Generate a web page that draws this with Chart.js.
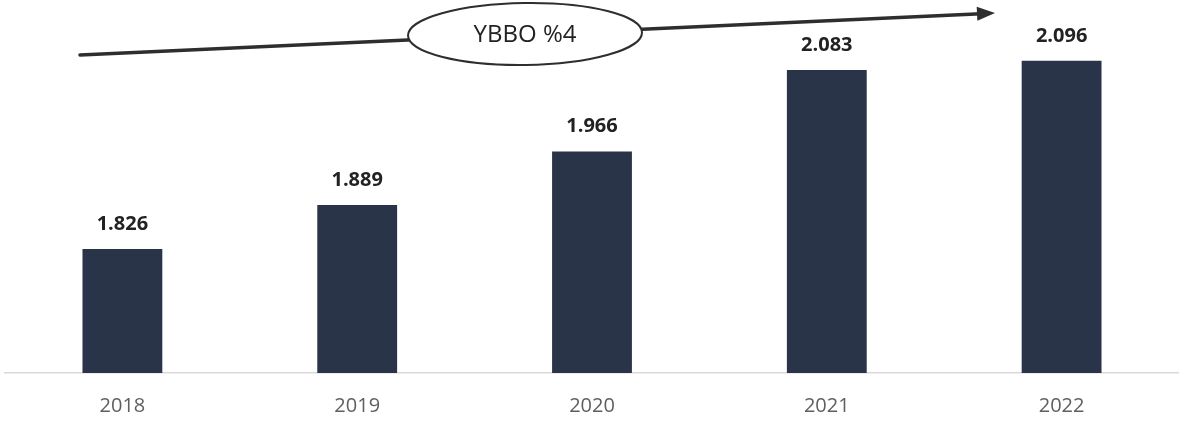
<!DOCTYPE html>
<html>
<head>
<meta charset="utf-8">
<script src="https://cdn.jsdelivr.net/npm/chart.js@4.4.0/dist/chart.umd.min.js"></script>
<style>
  html, body { margin: 0; padding: 0; background: #ffffff; }
  #wrap { width: 1179px; height: 423px; }
</style>
</head>
<body>
<div id="wrap"><canvas id="myChart" width="1179" height="423"></canvas></div>
<script>
// yearly totals
var years = ["2018", "2019", "2020", "2021", "2022"];
var totals = [1826, 1889, 1966, 2083, 2096];
var trendLabel = "YBBO %4";

var barColor = "#2a3448";

// thousands separator as a dot: 1826 -> 1.826
function fmt(v) {
  return v.toString().replace(/\B(?=(\d{3})+(?!\d))/g, ".");
}

// bold value on top of each bar
var valueLabels = {
  id: "valueLabels",
  afterDatasetsDraw: function (chart) {
    var ctx = chart.ctx;
    var meta = chart.getDatasetMeta(0);
    ctx.save();
    ctx.font = "bold 20px 'Open Sans'";
    ctx.fillStyle = "#222222";
    ctx.textAlign = "center";
    ctx.textBaseline = "middle";
    meta.data.forEach(function (bar, i) {
      ctx.fillText(fmt(totals[i]), bar.x, bar.y - 25);
    });
    ctx.restore();
  }
};

// growth arrow with the ellipse label in the middle
var trendArrow = {
  id: "trendArrow",
  afterDraw: function (chart) {
    var ctx = chart.ctx;
    var x0 = 80, y0 = 55, x1 = 995, y1 = 13;
    var ang = Math.atan2(y1 - y0, x1 - x0);
    ctx.save();
    ctx.strokeStyle = "#2e2e2e";
    ctx.fillStyle = "#2e2e2e";
    ctx.lineWidth = 3.5;
    ctx.lineCap = "round";
    ctx.beginPath();
    ctx.moveTo(x0, y0);
    ctx.lineTo(x1 - 14 * Math.cos(ang), y1 - 14 * Math.sin(ang));
    ctx.stroke();
    // arrow head
    ctx.beginPath();
    ctx.moveTo(x1, y1);
    ctx.lineTo(x1 - 18 * Math.cos(ang) + 7 * Math.sin(ang), y1 - 18 * Math.sin(ang) - 7 * Math.cos(ang));
    ctx.lineTo(x1 - 18 * Math.cos(ang) - 7 * Math.sin(ang), y1 - 18 * Math.sin(ang) + 7 * Math.cos(ang));
    ctx.closePath();
    ctx.fill();
    // ellipse
    ctx.beginPath();
    ctx.ellipse(525, 34, 117, 31, ang * 0.3, 0, Math.PI * 2);
    ctx.fillStyle = "#ffffff";
    ctx.fill();
    ctx.lineWidth = 2;
    ctx.stroke();
    ctx.fillStyle = "#222222";
    ctx.font = "24px 'Open Sans'";
    ctx.textAlign = "center";
    ctx.textBaseline = "middle";
    ctx.fillText(trendLabel, 525, 35);
    ctx.restore();
  }
};

var ctx = document.getElementById("myChart").getContext("2d");
var chart = new Chart(ctx, {
  type: "bar",
  data: {
    labels: years,
    datasets: [
      {
        data: totals,
        backgroundColor: barColor,
        barPercentage: 0.68,
        categoryPercentage: 0.5
      }
    ]
  },
  options: {
    responsive: false,
    animation: false,
    layout: { padding: { left: 5, right: 0, top: 10, bottom: 0 } },
    plugins: {
      legend: { display: false },
      tooltip: { enabled: false }
    },
    scales: {
      x: {
        grid: { display: false, drawTicks: false },
        border: { display: true, color: "#d9d9d9", width: 1.5 },
        ticks: {
          padding: 21,
          color: "#5f5f5f",
          font: { family: "'Open Sans'", size: 20 }
        },
        afterFit: function (scale) {
          scale.height = 50;
        }
      },
      y: {
        display: false,
        min: 1648,
        max: 2169
      }
    }
  },
  plugins: [valueLabels, trendArrow]
});
</script>
</body>
</html>
